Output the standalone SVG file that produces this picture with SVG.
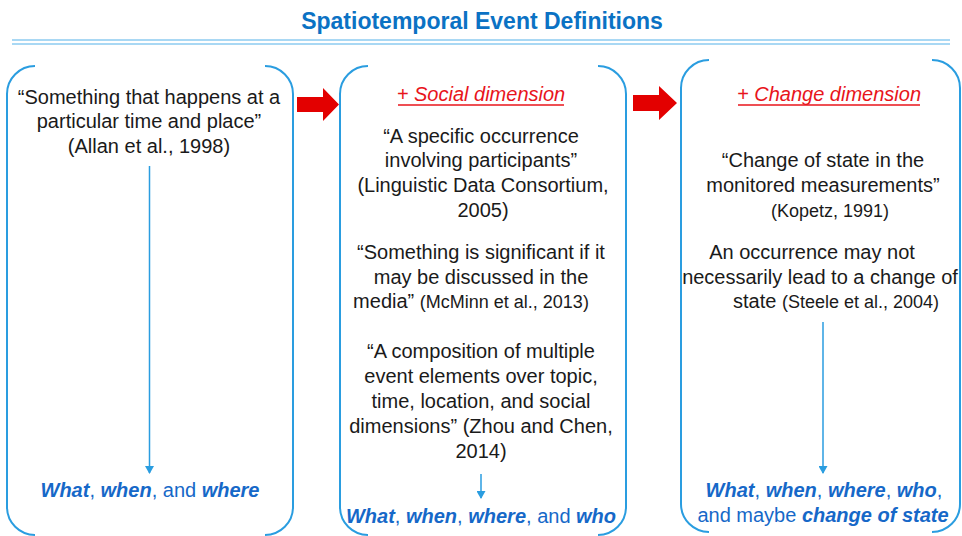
<svg xmlns="http://www.w3.org/2000/svg" width="962" height="536" viewBox="0 0 962 536">
<defs>
<style>
.box{fill:none;stroke:#2A9DE0;stroke-width:2}
.t{font-family:"Liberation Sans",Arial,sans-serif;font-size:20px;fill:#1a1a1a;text-anchor:middle}
.cite{font-size:18px}
.red{fill:#E8141B;font-style:italic}
.ul{stroke:#E8141B;stroke-width:1.3}
.b{fill:#1668C8}
.bi{font-weight:bold;font-style:italic}
.title{font-family:"Liberation Sans",Arial,sans-serif;font-size:23px;font-weight:bold;fill:#0B72C4;text-anchor:middle}
.vline{stroke:#2A9DE0;stroke-width:1.5;fill:none}
.rarrow{fill:#E30000}
</style>
<marker id="ah" markerUnits="userSpaceOnUse" markerWidth="8" markerHeight="9" refX="7" refY="4.5" orient="auto">
<path d="M0,0 L8,4.5 L0,9 z" fill="#2A9DE0"/>
</marker>
</defs>
<rect width="962" height="536" fill="#ffffff"/>
<g id="title">
<text class="title" x="482" y="29">Spatiotemporal Event Definitions</text>
<line x1="12" y1="40" x2="950" y2="40" stroke="#8CCBF0" stroke-width="1.5"/>
<line x1="12" y1="44" x2="950" y2="44" stroke="#8CCBF0" stroke-width="1.5"/>
</g>
<g id="node1">
<path class="box" d="M35,66 A28,28 0 0 0 7,94 L7,507 A28,28 0 0 0 35,535"/>
<path class="box" d="M265,66 A28,28 0 0 1 293,94 L293,507 A28,28 0 0 1 265,535"/>
<text class="t" x="149" y="104">“Something that happens at a</text>
<text class="t" x="149" y="128">particular time and place”</text>
<text class="t" x="149" y="153">(Allan et al., 1998)</text>
<text class="t b" x="150" y="497"><tspan class="bi">What</tspan>, <tspan class="bi">when</tspan>, and <tspan class="bi">where</tspan></text>
</g>
<g id="node2">
<path class="box" d="M368,66 A28,28 0 0 0 340,94 L340,507 A28,28 0 0 0 368,535"/>
<path class="box" d="M598,66 A28,28 0 0 1 626,94 L626,507 A28,28 0 0 1 598,535"/>
<text class="t red" x="481" y="101">+ Social dimension</text>
<line class="ul" x1="398" y1="105" x2="564" y2="105"/>
<text class="t" x="481" y="143">“A specific occurrence</text>
<text class="t" x="481" y="167">involving participants”</text>
<text class="t" x="483" y="192">(Linguistic Data Consortium,</text>
<text class="t" x="483" y="217">2005)</text>
<text class="t" x="481" y="259">“Something is significant if it</text>
<text class="t" x="481" y="284">may be discussed in the</text>
<text class="t" x="471" y="308">media” <tspan class="cite">(McMinn et al., 2013)</tspan></text>
<text class="t" x="481" y="358">“A composition of multiple</text>
<text class="t" x="481" y="383">event elements over topic,</text>
<text class="t" x="481" y="408">time, location, and social</text>
<text class="t" x="481" y="433">dimensions” (Zhou and Chen,</text>
<text class="t" x="481" y="458">2014)</text>
<text class="t b" x="481" y="523"><tspan class="bi">What</tspan>, <tspan class="bi">when</tspan>, <tspan class="bi">where</tspan>, and <tspan class="bi">who</tspan></text>
</g>
<g id="node3">
<path class="box" d="M709,60 A28,28 0 0 0 681,88 L681,504 A28,28 0 0 0 709,532"/>
<path class="box" d="M932,60 A28,28 0 0 1 960,88 L960,504 A28,28 0 0 1 932,532"/>
<text class="t red" x="829" y="101">+ Change dimension</text>
<line class="ul" x1="738" y1="105" x2="920" y2="105"/>
<text class="t" x="823" y="167">“Change of state in the</text>
<text class="t" x="823" y="192">monitored measurements”</text>
<text class="t cite" x="830" y="217">(Kopetz, 1991)</text>
<text class="t" x="812" y="259">An occurrence may not</text>
<text class="t" x="820" y="284">necessarily lead to a change of</text>
<text class="t" x="836" y="308">state <tspan class="cite">(Steele et al., 2004)</tspan></text>
<text class="t b" x="824" y="497"><tspan class="bi">What</tspan>, <tspan class="bi">when</tspan>, <tspan class="bi">where</tspan>, <tspan class="bi">who</tspan>,</text>
<text class="t b" x="823" y="522">and maybe <tspan class="bi">change of state</tspan></text>
</g>
<g id="connectors">
<polygon class="rarrow" points="297,97 323,97 323,88 339,104.5 323,121 323,112 297,112"/>
<polygon class="rarrow" points="633,95 659,95 659,86 677,103 659,120 659,111 633,111"/>
<line class="vline" x1="149.5" y1="166" x2="149.5" y2="473" marker-end="url(#ah)"/>
<line class="vline" x1="481" y1="474" x2="481" y2="498" marker-end="url(#ah)"/>
<line class="vline" x1="823" y1="322" x2="823" y2="473" marker-end="url(#ah)"/>
</g>
</svg>
